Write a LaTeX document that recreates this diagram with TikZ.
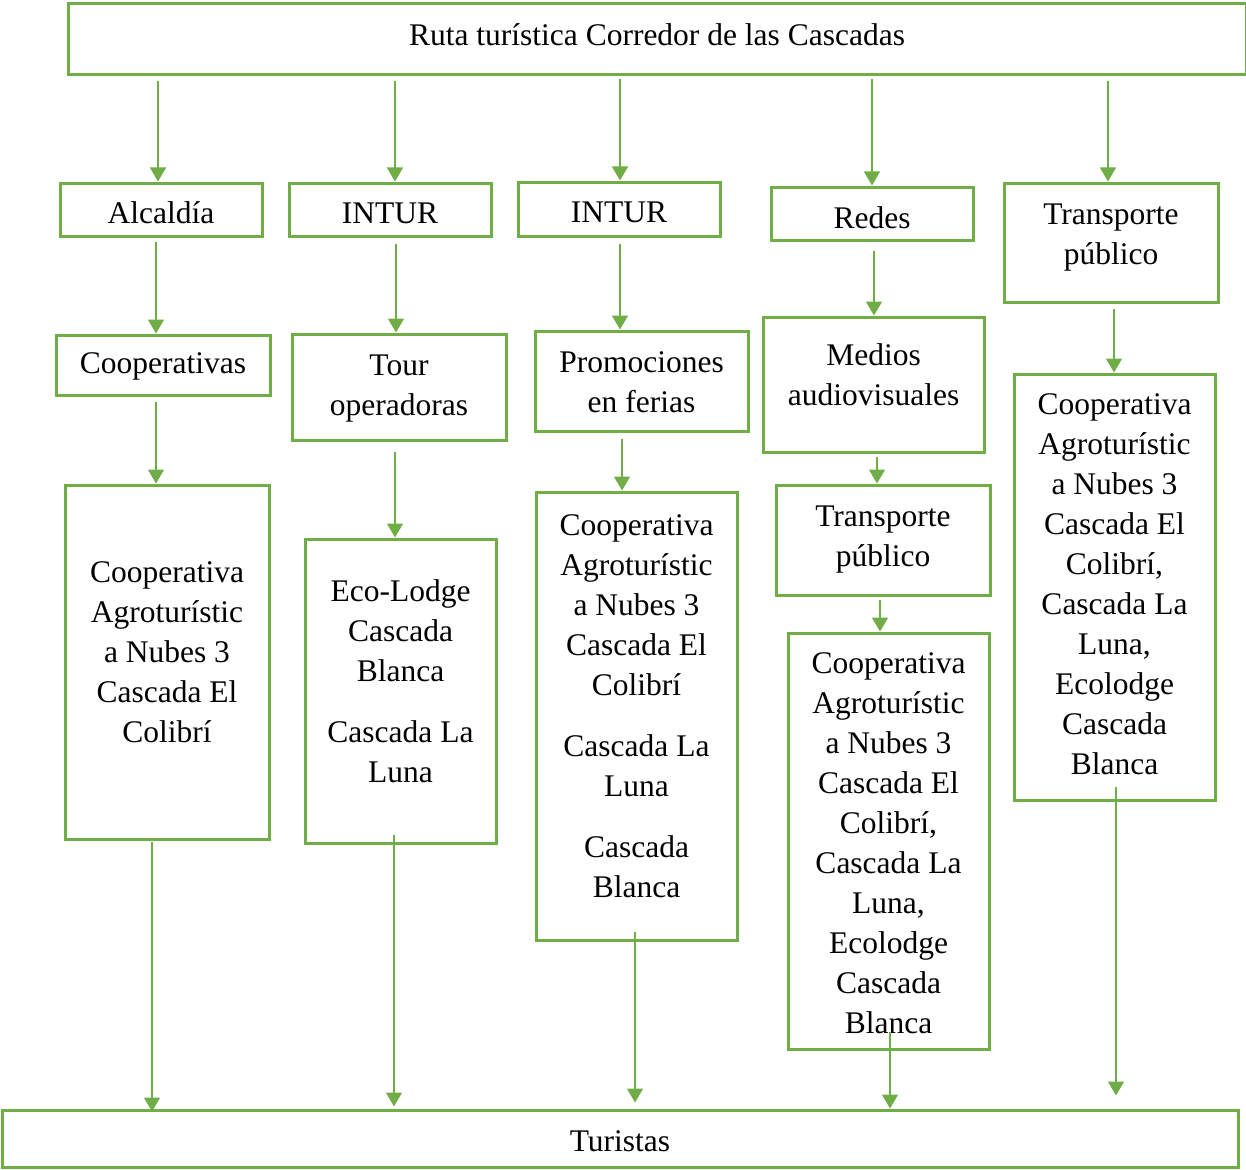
\documentclass[tikz,border=0pt]{standalone}
\usepackage{fontspec}
\setmainfont{Liberation Serif}
\usetikzlibrary{arrows.meta,calc}
\definecolor{vg}{HTML}{70AD47}
\begin{document}
\begin{tikzpicture}[x=1pt,y=-1pt,
  box/.style={draw=vg,line width=3pt,rectangle,inner sep=0pt},
  txt/.style={inner sep=0pt,align=center,font=\fontsize{31.5}{40}\selectfont},
  arr/.style={draw=vg,line width=1.5pt,-{Triangle[width=16pt,length=14pt]}}]
\useasboundingbox (0,0) rectangle (1246,1169);
% boxes
\node[box,minimum width=1178pt,minimum height=71pt] (top) at (657,39.5) {};
\node[box,minimum width=202pt,minimum height=53pt] (alc) at (161,209.5) {};
\node[box,minimum width=202pt,minimum height=53pt] (intA) at (390,209.5) {};
\node[box,minimum width=202pt,minimum height=54pt] (intB) at (619,209) {};
\node[box,minimum width=202pt,minimum height=53pt] (redes) at (872,213.5) {};
\node[box,minimum width=214pt,minimum height=119pt] (tpA) at (1111,242.5) {};
\node[box,minimum width=214pt,minimum height=60pt] (coop) at (163,365) {};
\node[box,minimum width=214pt,minimum height=106pt] (tour) at (399,387) {};
\node[box,minimum width=213pt,minimum height=100pt] (promo) at (641.5,381) {};
\node[box,minimum width=221pt,minimum height=135pt] (medios) at (873.5,384.5) {};
\node[box,minimum width=201pt,minimum height=426pt] (cE) at (1114.5,587) {};
\node[box,minimum width=204pt,minimum height=354pt] (cA) at (167,662) {};
\node[box,minimum width=191pt,minimum height=304pt] (cB) at (400.5,691) {};
\node[box,minimum width=201pt,minimum height=448pt] (cC) at (636.5,716) {};
\node[box,minimum width=214pt,minimum height=110pt] (tpB) at (883,540) {};
\node[box,minimum width=201pt,minimum height=416pt] (cD) at (888.5,841) {};
\node[box,minimum width=1236pt,minimum height=57pt] (tur) at (620,1138.5) {};
% texts
\node[txt] (topT) at (657,35) {Ruta turística Corredor de las Cascadas};
\node[txt] (alcT) at (161,213) {Alcaldía};
\node[txt] (intAT) at (390,213) {INTUR};
\node[txt] (intBT) at (619,212) {INTUR};
\node[txt] (redesT) at (872,218) {Redes};
\node[txt] (tpAT) at (1111,238) {Transporte\\público};
\node[txt] (coopT) at (163,366) {Cooperativas};
\node[txt] (tourT) at (399,389) {Tour\\operadoras};
\node[txt] (promoT) at (641.5,382) {Promociones\\en ferias};
\node[txt] (mediosT) at (873.5,375) {Medios\\audiovisuales};
\node[txt] (cET) at (1114.5,584) {Cooperativa\\Agroturístic\\a Nubes 3\\Cascada El\\Colibrí,\\Cascada La\\Luna,\\Ecolodge\\Cascada\\Blanca};
\node[txt] (cAT) at (167,652) {Cooperativa\\Agroturístic\\a Nubes 3\\Cascada El\\Colibrí};
\node[txt] (cBT) at (400.5,681) {Eco-Lodge\\Cascada\\Blanca\\[21pt]Cascada La\\Luna};
\node[txt] (cCT) at (636.5,706.5) {Cooperativa\\Agroturístic\\a Nubes 3\\Cascada El\\Colibrí\\[21pt]Cascada La\\Luna\\[21pt]Cascada\\Blanca};
\node[txt] (tpBT) at (883,539.5) {Transporte\\público};
\node[txt] (cDT) at (888.5,843) {Cooperativa\\Agroturístic\\a Nubes 3\\Cascada El\\Colibrí,\\Cascada La\\Luna,\\Ecolodge\\Cascada\\Blanca};
\node[txt] (turT) at (620,1141) {Turistas};
% connectors
\draw[arr] ($(top.south -| 158,0)+(0,5)$) -- (alc.north -| 158,0);
\draw[arr] ($(top.south -| 395,0)+(0,5)$) -- (intA.north -| 395,0);
\draw[arr] ($(top.south -| 620,0)+(0,3)$) -- (intB.north -| 620,0);
\draw[arr] ($(top.south -| 872,0)+(0,3)$) -- (redes.north -| 872,0);
\draw[arr] ($(top.south -| 1108,0)+(0,5)$) -- (tpA.north -| 1108,0);
\draw[arr] ($(alc.south -| 156,0)+(0,4)$) -- (coop.north -| 156,0);
\draw[arr] ($(intA.south -| 396,0)+(0,6)$) -- (tour.north -| 396,0);
\draw[arr] ($(intB.south -| 620,0)+(0,6)$) -- (promo.north -| 620,0);
\draw[arr] ($(redes.south -| 874,0)+(0,9)$) -- (medios.north -| 874,0);
\draw[arr] ($(tpA.south -| 1114,0)+(0,5)$) -- (cE.north -| 1114,0);
\draw[arr] ($(coop.south -| 156,0)+(0,5)$) -- (cA.north -| 156,0);
\draw[arr] ($(tour.south -| 395,0)+(0,10)$) -- (cB.north -| 395,0);
\draw[arr] ($(promo.south -| 622,0)+(0,6)$) -- (cC.north -| 622,0);
\draw[arr] ($(medios.south -| 877,0)+(0,3)$) -- (tpB.north -| 877,0);
\draw[arr] ($(tpB.south -| 880,0)+(0,3)$) -- (cD.north -| 880,0);
\draw[arr] ($(cA.south -| 152,0)+(0,1)$) -- ($(tur.north -| 152,0)+(0,3)$);
\draw[arr] ($(cB.south -| 394,0)+(0,-10)$) -- ($(tur.north -| 394,0)+(0,-2)$);
\draw[arr] ($(cC.south -| 635,0)+(0,-10)$) -- ($(tur.north -| 635,0)+(0,-6)$);
\draw[arr] ($(cD.south -| 890,0)+(0,-19)$) -- (tur.north -| 890,0);
\draw[arr] ($(cE.south -| 1116,0)+(0,-15)$) -- ($(tur.north -| 1116,0)+(0,-13)$);
\end{tikzpicture}
\end{document}
